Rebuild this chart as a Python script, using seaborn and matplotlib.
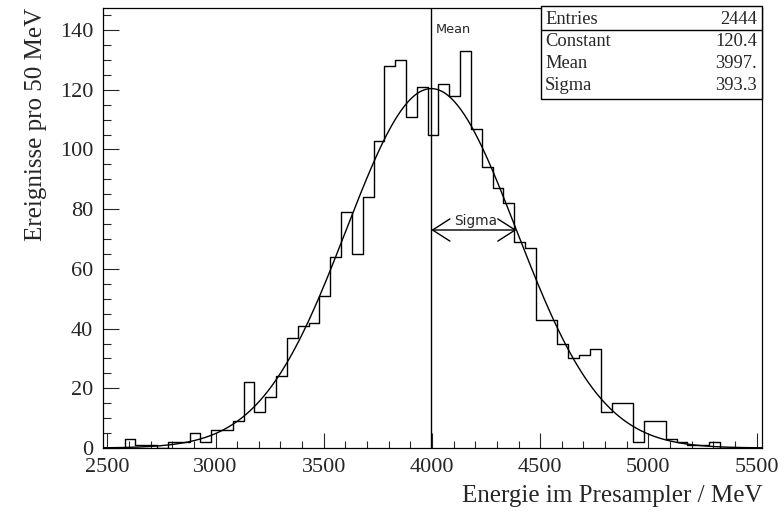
import numpy as np
import pandas as pd
import matplotlib
matplotlib.use("Agg")
import matplotlib.pyplot as plt
from matplotlib.patches import Rectangle
from matplotlib.lines import Line2D
import seaborn as sns

# ---- data ----
first_edge = 2480          # MeV, left edge of first bin
bin_width = 50             # MeV
counts = [0, 0, 3, 1, 1, 0, 2, 2, 5, 2,
          6, 6, 9, 22, 12, 17, 24, 37, 41, 42,
          51, 64, 79, 65, 84, 103, 128, 130, 111, 121,
          105, 122, 118, 133, 107, 94, 87, 82, 69, 67,
          43, 43, 35, 30, 31, 33, 12, 15, 15, 2,
          9, 9, 3, 2, 1, 1, 2, 0, 0, 0, 0]
fit_constant = 120.4
fit_mean = 3997.0
fit_sigma = 393.3
entries = 2444
stat_labels = ["Entries", "Constant", "Mean", "Sigma"]
stat_values = ["2444", "120.4", "3997.", "393.3"]
x_ticks = [2500, 3000, 3500, 4000, 4500, 5000, 5500]
y_ticks = [0, 20, 40, 60, 80, 100, 120, 140]

edges = first_edge + bin_width * np.arange(len(counts) + 1)
centers = edges[:-1] + bin_width / 2
df = pd.DataFrame({"E": centers, "n": counts})

sns.set_style("white")
plt.rcParams["font.family"] = ["Liberation Serif", "DejaVu Serif"]

W, H = 784, 515
fig = plt.figure(figsize=(W / 100, H / 100), dpi=100)
L, R, T, B = 103, 762, 8, 448
ax = fig.add_axes([L / W, 1 - B / H, (R - L) / W, (B - T) / H])

sns.histplot(data=df, x="E", weights="n", bins=[float(e) for e in edges],
             element="step", fill=False, color="black", linewidth=1.0, ax=ax)

xs = np.linspace(edges[0], edges[-1], 600)
ys = fit_constant * np.exp(-0.5 * ((xs - fit_mean) / fit_sigma) ** 2)
sns.lineplot(x=xs, y=ys, color="black", linewidth=1.0, ax=ax, estimator=None)

ax.set_xlim(2480, 5525)
ax.set_ylim(0, 147.4)

# mean line and labels
ax.axvline(fit_mean, color="black", linewidth=1.0)
ax.text(fit_mean + 22, 140.3, "Mean", family="DejaVu Sans", fontsize=9.3,
        ha="left", va="center")
yh = fit_constant * np.exp(-0.5)
ax.annotate("", xy=(fit_mean, yh), xytext=(fit_mean + fit_sigma, yh),
            arrowprops=dict(arrowstyle="<->,head_length=1.25,head_width=0.8",
                            lw=1.0, color="black", shrinkA=0, shrinkB=0))
ax.text(fit_mean + fit_sigma / 2 + 8, yh + 0.6, "Sigma", family="DejaVu Sans",
        fontsize=9.8, ha="center", va="bottom")

# ticks
ax.set_xticks(x_ticks)
ax.set_xticks(np.arange(2500, 5501, 100), minor=True)
ax.set_yticks(y_ticks)
ax.set_yticks(np.arange(0, 146, 5), minor=True)
ax.tick_params(axis="x", which="major", direction="in", length=10.5, width=0.8,
               labelsize=16, pad=7.5, top=False, bottom=True)
ax.tick_params(axis="x", which="minor", direction="in", length=5, width=0.8,
               top=False, bottom=True)
ax.tick_params(axis="y", which="major", direction="in", length=11.5, width=0.8,
               labelsize=16, pad=7, left=True, right=False)
ax.tick_params(axis="y", which="minor", direction="in", length=5.8, width=0.8,
               left=True, right=False)
for s in ax.spines.values():
    s.set_visible(True)
    s.set_linewidth(0.9)
    s.set_color("black")

ax.set_xlabel("Energie im Presampler / MeV", fontsize=18, loc="right")
ax.set_ylabel("Ereignisse pro 50 MeV", fontsize=18, loc="top")
ax.xaxis.set_label_coords(1.0, -(485 - B) / (B - T))
ax.yaxis.set_label_coords(-(L - 47) / (R - L), 1.0)

# stats box (figure pixel coordinates)
def fx(px): return px / W
def fy(py): return 1 - py / H
bx0, bx1, by0, by1 = 541, 762, 6, 99
fig.add_artist(Rectangle((fx(bx0), fy(by1)), fx(bx1) - fx(bx0), fy(by0) - fy(by1),
                         transform=fig.transFigure, facecolor="white",
                         edgecolor="black", linewidth=1.0, zorder=10))
fig.add_artist(Line2D([fx(bx0), fx(bx1)], [fy(30), fy(30)], transform=fig.transFigure,
                      color="black", linewidth=1.0, zorder=11))
rows_y = [19, 42, 63, 85]
for lab, val, py in zip(stat_labels, stat_values, rows_y):
    fig.text(fx(545), fy(py), lab, fontsize=13.3, ha="left", va="center", zorder=12)
    fig.text(fx(757), fy(py), val, fontsize=13.3, ha="right", va="center", zorder=12)

fig.savefig("out.png", dpi=100)
